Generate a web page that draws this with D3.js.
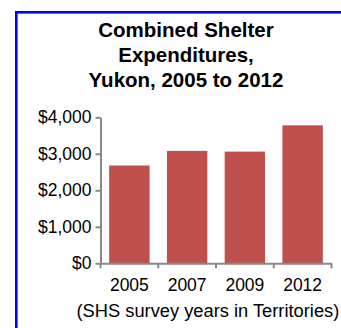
<!DOCTYPE html>
<html>
<head>
<meta charset="utf-8">
<script src="https://cdn.jsdelivr.net/npm/d3@7"></script>
<style>
  html, body { margin: 0; padding: 0; background: #fff; }
  svg { display: block; }
  text { font-family: "Liberation Sans", Arial, sans-serif; fill: #000; }
</style>
</head>
<body>
<svg id="chart" width="341" height="328"></svg>
<script>
// Survey years and combined shelter expenditures (dollars)
const years = ["2005", "2007", "2009", "2012"];
const expenditures = [2680, 3080, 3060, 3780];
const yTickValues = [0, 1000, 2000, 3000, 4000];
const titleLines = ["Combined Shelter", "Expenditures,", "Yukon, 2005 to 2012"];
const axisCaption = "(SHS survey years in Territories)";

const svg = d3.select("#chart");

// Outer frame (extends past the right and bottom edges)
svg.append("rect")
  .attr("x", 16.3).attr("y", 12.3)
  .attr("width", 400).attr("height", 400)
  .attr("fill", "none")
  .attr("stroke", "#0000ff")
  .attr("stroke-width", 2.6);

// Title
svg.append("g")
  .selectAll("text")
  .data(titleLines)
  .join("text")
  .attr("x", 186)
  .attr("y", (d, i) => 36.7 + i * 25.3)
  .attr("text-anchor", "middle")
  .attr("font-size", 20.5)
  .attr("font-weight", "bold")
  .text(d => d);

const plot = { left: 100.5, right: 331.5, top: 117.3, bottom: 263.3 };

const x = d3.scaleBand()
  .domain(years)
  .range([plot.left, plot.right])
  .paddingInner(0.3)
  .paddingOuter(0.15);

const y = d3.scaleLinear()
  .domain([0, 4000])
  .range([plot.bottom, plot.top]);

const axisColor = "#898989";

// Bars
svg.append("g")
  .selectAll("rect")
  .data(years.map((yr, i) => ({ yr, v: expenditures[i] })))
  .join("rect")
  .attr("x", d => x(d.yr))
  .attr("y", d => y(d.v))
  .attr("width", x.bandwidth())
  .attr("height", d => y(0) - y(d.v))
  .attr("fill", "#c0504d");

// Y axis
const yAxis = svg.append("g")
  .attr("transform", `translate(${plot.left},0)`)
  .call(d3.axisLeft(y)
    .tickValues(yTickValues)
    .tickSize(5)
    .tickSizeOuter(0)
    .tickPadding(4)
    .tickFormat(d => "$" + d3.format(",")(d)));
yAxis.select(".domain").attr("stroke", axisColor).attr("stroke-width", 2);
yAxis.selectAll(".tick line").attr("stroke", axisColor).attr("stroke-width", 2);
yAxis.selectAll(".tick text")
  .attr("font-size", 17.5)
  .attr("font-family", "Liberation Sans, Arial, sans-serif")
  .attr("fill", "#000");

// X axis: labels centred on bands, tick marks on band boundaries
const xAxis = svg.append("g")
  .attr("transform", `translate(0,${plot.bottom})`)
  .call(d3.axisBottom(x).tickSize(0).tickSizeOuter(0).tickPadding(15));
xAxis.select(".domain").attr("stroke", axisColor).attr("stroke-width", 2);
xAxis.selectAll(".tick text")
  .attr("font-size", 17.5)
  .attr("font-family", "Liberation Sans, Arial, sans-serif")
  .attr("fill", "#000");

const half = x.step() * x.paddingOuter();
const boundaries = years.map(d => x(d) - half).concat([x(years[years.length - 1]) + x.bandwidth() + half]);
xAxis.selectAll("line.boundary")
  .data(boundaries)
  .join("line")
  .attr("class", "boundary")
  .attr("x1", d => d).attr("x2", d => d)
  .attr("y1", 0).attr("y2", 5)
  .attr("stroke", axisColor)
  .attr("stroke-width", 2);

// Axis caption
svg.append("text")
  .attr("x", 76.5)
  .attr("y", 317)
  .attr("font-size", 18.3)
  .text(axisCaption);
</script>
</body>
</html>
